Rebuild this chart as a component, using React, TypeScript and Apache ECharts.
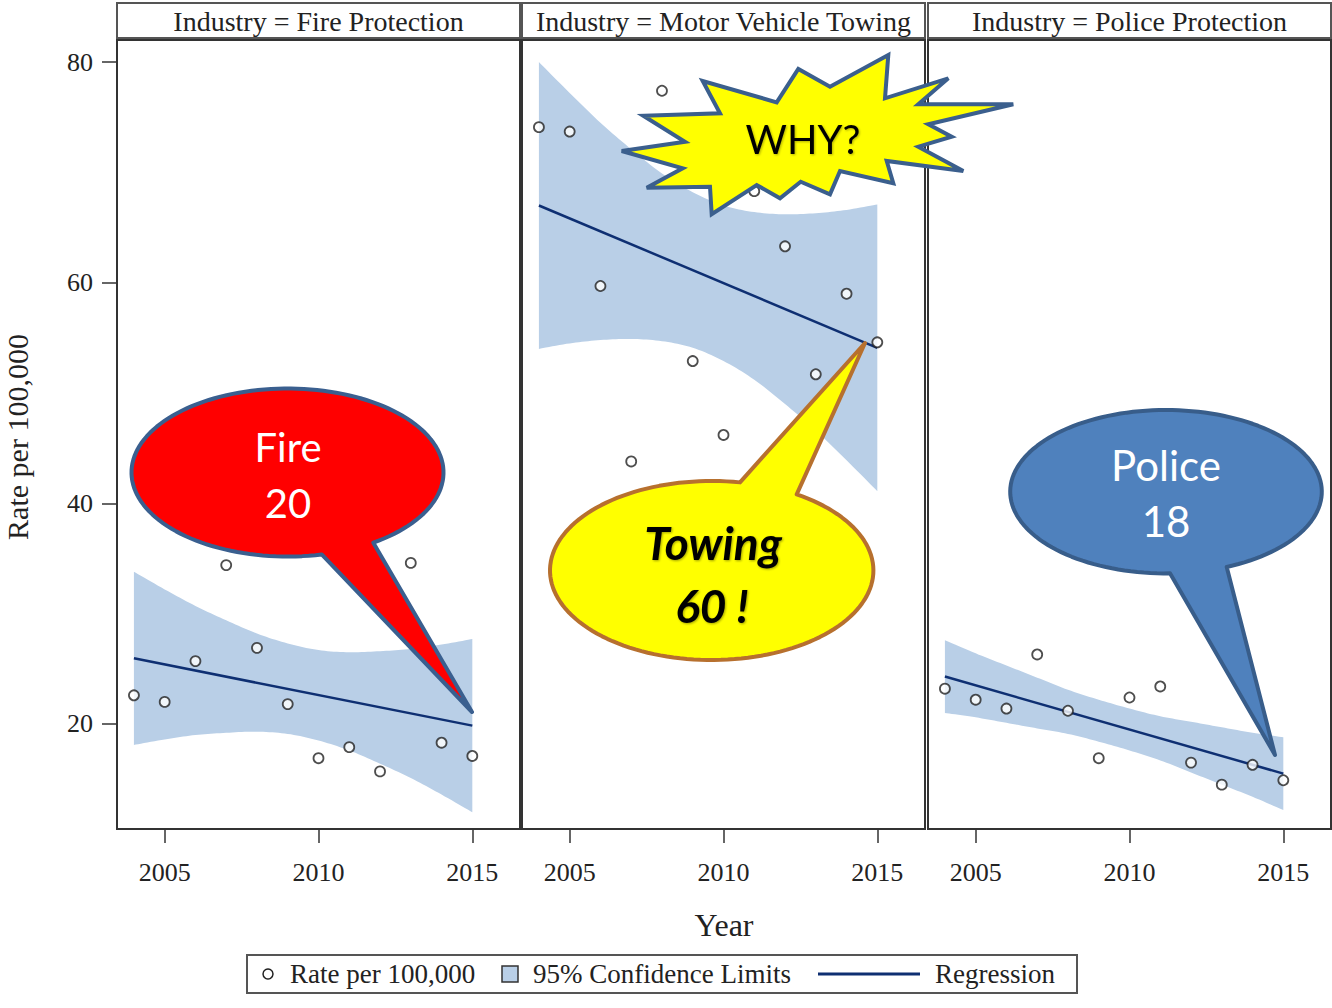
import React, { useEffect, useRef } from "react";
import * as echarts from "echarts";

// ---------------- data ----------------
const years = [2004, 2005, 2006, 2007, 2008, 2009, 2010, 2011, 2012, 2013, 2014, 2015];
const panelNames = ["Fire Protection", "Motor Vehicle Towing", "Police Protection"];

const fireRate = [22.6, 22.0, 25.7, 34.4, 26.9, 21.8, 16.9, 17.9, 15.7, 34.6, 18.3, 17.1];
const towingRate = [74.1, 73.7, 59.7, 43.8, 77.4, 52.9, 46.2, 68.3, 63.3, 51.7, 59.0, 54.6];
const policeRate = [23.2, 22.2, 21.4, 26.3, 21.2, 16.9, 22.4, 23.4, 16.5, 14.5, 16.3, 14.9];

const fireUpper = [33.8, 32.2, 30.7, 29.4, 28.2, 27.3, 26.7, 26.5, 26.6, 26.8, 27.2, 27.7];
const fireLower = [18.1, 18.6, 19.0, 19.2, 19.3, 19.1, 18.5, 17.6, 16.4, 15.1, 13.6, 12.0];
const towingUpper = [80.0, 77.2, 74.5, 72.1, 69.9, 68.2, 67.0, 66.4, 66.2, 66.3, 66.6, 67.1];
const towingLower = [54.0, 54.5, 54.8, 54.9, 54.7, 54.1, 52.9, 51.2, 49.0, 46.6, 43.9, 41.1];
const policeUpper = [27.6, 26.4, 25.3, 24.2, 23.1, 22.2, 21.4, 20.7, 20.2, 19.7, 19.2, 18.8];
const policeLower = [21.0, 20.6, 20.1, 19.6, 19.1, 18.4, 17.6, 16.7, 15.6, 14.5, 13.4, 12.2];

const fitYears = [2004, 2015];
const fireFit = [25.95, 19.85];
const towingFit = [67.0, 54.1];
const policeFit = [24.3, 15.5];

const xTicks = [2005, 2010, 2015];
const yTicks = [20, 40, 60, 80];

const rates = [fireRate, towingRate, policeRate];
const uppers = [fireUpper, towingUpper, policeUpper];
const lowers = [fireLower, towingLower, policeLower];
const fits = [fireFit, towingFit, policeFit];

// ---------------- style ----------------
const SERIF = '"Liberation Serif", "Times New Roman", serif';
const SANS = 'Lato, "Open Sans", sans-serif';
const BAND = "#B9CFE7";
const NAVY = "#0E2F72";
const gridLefts = [117, 522, 928];
const gridW = 403;
const gridTop = 40;
const gridH = 789;

// Catmull-Rom smoothing of pixel points (points come from api.coord)
function smoothPts(p: number[][]) {
  const out: number[][] = [];
  const n = p.length;
  for (let k = 0; k < n - 1; k++) {
    const p0 = p[Math.max(0, k - 1)];
    const p1 = p[k];
    const p2 = p[k + 1];
    const p3 = p[Math.min(n - 1, k + 2)];
    const steps = 10;
    for (let s = 0; s < steps; s++) {
      const t = s / steps;
      const t2 = t * t;
      const t3 = t2 * t;
      const f = (a: number, b: number, c: number, d: number) =>
        0.5 * (2 * b + (-a + c) * t + (2 * a - 5 * b + 4 * c - d) * t2 + (-a + 3 * b - 3 * c + d) * t3);
      out.push([f(p0[0], p1[0], p2[0], p3[0]), f(p0[1], p1[1], p2[1], p3[1])]);
    }
  }
  out.push(p[n - 1]);
  return out;
}

function calloutPoints(
  cx: number, cy: number, rx: number, ry: number,
  baseA: number, sideA: number, baseB: number, sideB: number,
  tip: number[]
) {
  const a = sideA * Math.acos((baseA - cx) / rx);
  const b = sideB * Math.acos((baseB - cx) / rx);
  const start = Math.max(a, b);
  const end = Math.min(a, b) + Math.PI * 2;
  const pts: number[][] = [];
  const n = 140;
  for (let i = 0; i <= n; i++) {
    const t = start + ((end - start) * i) / n;
    pts.push([cx + rx * Math.cos(t), cy + ry * Math.sin(t)]);
  }
  pts.push(tip);
  return pts;
}

const starPts = [
  [621.7, 151], [685, 141.7], [643.3, 115.7], [720, 113.3], [702.7, 81], [776.7, 102.3],
  [798.3, 69], [830, 86.7], [888.3, 55], [885, 98.3], [948.3, 78.3], [918.3, 104.3],
  [1013.3, 104.3], [928.3, 124.3], [951.7, 136.7], [918.3, 146.7], [963.3, 171], [886.7, 161],
  [893.3, 183.3], [840, 171], [830, 194.3], [800.7, 181.7], [780, 198.3], [756.7, 185],
  [711.7, 214.3], [710, 186.7], [646.7, 187.7], [682.7, 168.3],
];

function buildOption() {
  const grid = gridLefts.map((l) => ({
    left: l, top: gridTop, width: gridW, height: gridH,
    show: true, borderColor: "#333", borderWidth: 2, backgroundColor: "transparent",
  }));
  const xAxis = gridLefts.map((_, i) => ({
    type: "value", gridIndex: i, min: 2003.45, max: 2016.55,
    axisLine: { show: false }, splitLine: { show: false },
    axisTick: { show: true, length: 14, customValues: xTicks, lineStyle: { color: "#333", width: 1.5 } },
    axisLabel: {
      customValues: xTicks, fontFamily: SERIF, fontSize: 26, color: "#222", margin: 30,
      formatter: (v: number) => String(v),
    },
  }));
  const yAxis = gridLefts.map((_, i) => ({
    type: "value", gridIndex: i, min: 10.48, max: 82,
    axisLine: { show: false }, splitLine: { show: false },
    axisTick: { show: i === 0, length: 15, customValues: yTicks, lineStyle: { color: "#333", width: 1.5 } },
    axisLabel: {
      show: i === 0, customValues: yTicks, fontFamily: SERIF, fontSize: 26, color: "#222", margin: 24,
      formatter: (v: number) => String(v),
    },
  }));

  const series: any[] = [];
  for (let i = 0; i < 3; i++) {
    const up = uppers[i];
    const lo = lowers[i];
    series.push({
      type: "custom", xAxisIndex: i, yAxisIndex: i, z: 1, silent: true,
      data: years.map((y, k) => [y, lo[k], up[k]]),
      renderItem: (params: any, api: any) => {
        if (params.dataIndex !== 0) return { type: "group", children: [] };
        const upPts = smoothPts(years.map((y, k) => api.coord([y, up[k]])));
        const loPts = smoothPts(years.map((y, k) => api.coord([y, lo[k]])));
        const pts = upPts.concat(loPts.reverse());
        return {
          type: "polygon",
          shape: { points: pts },
          style: { fill: BAND, stroke: "none" },
        };
      },
    });
    series.push({
      type: "line", xAxisIndex: i, yAxisIndex: i, z: 2,
      data: fitYears.map((y, k) => [y, fits[i][k]]),
      symbol: "none", lineStyle: { color: NAVY, width: 2.5 },
    });
    series.push({
      type: "scatter", xAxisIndex: i, yAxisIndex: i, z: 3,
      data: years.map((y, k) => [y, rates[i][k]]),
      symbol: "circle", symbolSize: 10,
      itemStyle: { color: "#fff", borderColor: "#222", borderWidth: 1.8 },
    });
  }

  const graphic: any[] = [];
  // headers
  gridLefts.forEach((l, i) => {
    graphic.push({
      type: "rect", z: 50,
      shape: { x: l, y: 3, width: gridW, height: 35 },
      style: { fill: "#fff", stroke: "#555", lineWidth: 2 },
    });
    graphic.push({
      type: "text", z: 51, x: l + gridW / 2, y: 21,
      style: {
        text: "Industry = " + panelNames[i], fontFamily: SERIF, fontSize: 28,
        fill: "#222", align: "center", verticalAlign: "middle",
      },
    });
  });
  // axis titles
  graphic.push({
    type: "text", z: 50, x: 17, y: 437, rotation: Math.PI / 2,
    style: { text: "Rate per 100,000", fontFamily: SERIF, fontSize: 30, fill: "#222", align: "center", verticalAlign: "middle" },
  });
  graphic.push({
    type: "text", z: 50, x: 724, y: 925,
    style: { text: "Year", fontFamily: SERIF, fontSize: 32, fill: "#222", align: "center", verticalAlign: "middle" },
  });
  // legend
  graphic.push({
    type: "rect", z: 50, shape: { x: 247, y: 955, width: 830, height: 38 },
    style: { fill: "#fff", stroke: "#555", lineWidth: 2 },
  });
  graphic.push({ type: "circle", z: 51, shape: { cx: 268, cy: 974, r: 5 }, style: { fill: "#fff", stroke: "#222", lineWidth: 1.5 } });
  graphic.push({
    type: "text", z: 51, x: 290, y: 974,
    style: { text: "Rate per 100,000", fontFamily: SERIF, fontSize: 27, fill: "#222", align: "left", verticalAlign: "middle" },
  });
  graphic.push({ type: "rect", z: 51, shape: { x: 502, y: 966, width: 16, height: 16 }, style: { fill: BAND, stroke: "#333", lineWidth: 1.5 } });
  graphic.push({
    type: "text", z: 51, x: 533, y: 974,
    style: { text: "95% Confidence Limits", fontFamily: SERIF, fontSize: 27, fill: "#222", align: "left", verticalAlign: "middle" },
  });
  graphic.push({ type: "line", z: 51, shape: { x1: 818, y1: 974, x2: 920, y2: 974 }, style: { stroke: NAVY, lineWidth: 3 } });
  graphic.push({
    type: "text", z: 51, x: 935, y: 974,
    style: { text: "Regression", fontFamily: SERIF, fontSize: 27, fill: "#222", align: "left", verticalAlign: "middle" },
  });

  // callouts
  graphic.push({
    type: "polygon", z: 100,
    shape: { points: calloutPoints(287.5, 472.5, 156, 84, 321.7, 1, 373.3, 1, [472, 712]) },
    style: { fill: "#FF0000", stroke: "#3A5F8F", lineWidth: 4, lineJoin: "round" },
  });
  graphic.push({
    type: "text", z: 101, x: 288, y: 447,
    style: { text: "Fire", fontFamily: SANS, fontSize: 40, fill: "#fff", align: "center", verticalAlign: "middle" },
  });
  graphic.push({
    type: "text", z: 101, x: 288, y: 503,
    style: { text: "20", fontFamily: SANS, fontSize: 40, fill: "#fff", align: "center", verticalAlign: "middle" },
  });

  graphic.push({
    type: "polygon", z: 100,
    shape: { points: calloutPoints(711.7, 570.5, 161.7, 89.5, 740, -1, 796.7, -1, [865, 343]) },
    style: { fill: "#FFFF00", stroke: "#B7702E", lineWidth: 4, lineJoin: "round" },
  });
  graphic.push({
    type: "text", z: 101, x: 713, y: 542,
    style: {
      text: "Towing", fontFamily: SANS, fontSize: 46, fontWeight: "bold", fontStyle: "italic", fill: "#000",
      align: "center", verticalAlign: "middle",
      textShadowColor: "rgba(0,0,0,0.35)", textShadowBlur: 2, textShadowOffsetX: 1, textShadowOffsetY: 1,
    },
  });
  graphic.push({
    type: "text", z: 101, x: 712, y: 605,
    style: {
      text: "60 !", fontFamily: SANS, fontSize: 46, fontWeight: "bold", fontStyle: "italic", fill: "#000",
      align: "center", verticalAlign: "middle",
      textShadowColor: "rgba(0,0,0,0.35)", textShadowBlur: 2, textShadowOffsetX: 1, textShadowOffsetY: 1,
    },
  });

  graphic.push({
    type: "polygon", z: 100,
    shape: { points: starPts },
    style: { fill: "#FFFF00", stroke: "#3B5F8D", lineWidth: 4, lineJoin: "miter" },
  });
  graphic.push({
    type: "text", z: 101, x: 803, y: 139,
    style: {
      text: "WHY?", fontFamily: SANS, fontSize: 40, fill: "#000", align: "center", verticalAlign: "middle",
      textShadowColor: "rgba(0,0,0,0.3)", textShadowBlur: 2, textShadowOffsetX: 1, textShadowOffsetY: 1,
    },
  });

  graphic.push({
    type: "polygon", z: 100,
    shape: { points: calloutPoints(1166, 491.7, 155.8, 81.7, 1170, 1, 1226.7, 1, [1275, 755]) },
    style: { fill: "#4F81BD", stroke: "#385D8A", lineWidth: 4, lineJoin: "round" },
  });
  graphic.push({
    type: "text", z: 101, x: 1166, y: 465,
    style: { text: "Police", fontFamily: SANS, fontSize: 42, fill: "#fff", align: "center", verticalAlign: "middle" },
  });
  graphic.push({
    type: "text", z: 101, x: 1166, y: 521,
    style: { text: "18", fontFamily: SANS, fontSize: 42, fill: "#fff", align: "center", verticalAlign: "middle" },
  });

  return {
    animation: false,
    backgroundColor: "#fff",
    grid, xAxis, yAxis, series, graphic,
  };
}

export default function App() {
  const ref = useRef<HTMLDivElement>(null);
  useEffect(() => {
    const chart = echarts.init(ref.current as HTMLDivElement, null, { renderer: "svg" });
    chart.setOption(buildOption() as any);
    return () => chart.dispose();
  }, []);
  return (
    <div
      ref={ref}
      style={{ position: "absolute", left: 0, top: 0, width: 1332, height: 1008 }}
    />
  );
}
